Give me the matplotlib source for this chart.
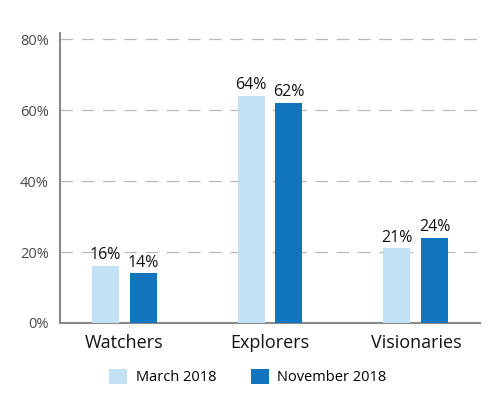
import matplotlib
matplotlib.use("Agg")
import matplotlib.pyplot as plt
from matplotlib.patches import Patch
import numpy as np

categories = ["Watchers", "Explorers", "Visionaries"]
march_2018 = [16, 64, 21]
november_2018 = [14, 62, 24]
series_names = ["March 2018", "November 2018"]
yticks = [0, 20, 40, 60, 80]
ytick_labels = ["0%", "20%", "40%", "60%", "80%"]

c_light = "#c3e1f5"
c_dark = "#1075bd"
font = ["Open Sans", "DejaVu Sans"]
plt.rcParams["font.family"] = font

fig = plt.figure(figsize=(5, 4.2), dpi=100)
ax = fig.add_axes([0.12, 0.231, 0.84, 0.69])

x = np.arange(len(categories))
w = 0.185
off = 0.13
b1 = ax.bar(x - off, march_2018, width=w, color=c_light, zorder=3)
b2 = ax.bar(x + off, november_2018, width=w, color=c_dark, zorder=3)
for bars, vals in ((b1, march_2018), (b2, november_2018)):
    for rect, v in zip(bars, vals):
        ax.annotate(f"{v}%", (rect.get_x() + rect.get_width() / 2, v),
                    xytext=(0, 2), textcoords="offset points",
                    ha="center", va="bottom", fontsize=11.5, color="#111111")

ax.set_xlim(-0.44, 2.44)
ax.set_ylim(0, 81.7)
ax.set_yticks(yticks)
ax.set_yticklabels(ytick_labels, fontsize=10.5, color="#4a4a4a")
ax.set_xticks(x)
ax.set_xticklabels(categories, fontsize=13, color="#111111")
ax.tick_params(axis="both", length=0)
ax.tick_params(axis="y", pad=8)
ax.tick_params(axis="x", pad=8)
for yv in yticks[1:]:
    ax.axhline(yv, color="#b8b8b8", lw=0.9, dashes=(10, 7), zorder=1)
for s in ("top", "right"):
    ax.spines[s].set_visible(False)
for s in ("left", "bottom"):
    ax.spines[s].set_color("#8a8a8a")
    ax.spines[s].set_linewidth(1.5)

handles = [Patch(facecolor=c_light), Patch(facecolor=c_dark)]
fig.legend(handles, series_names, loc="center", bbox_to_anchor=(0.496, 0.102),
           ncol=2, frameon=False, fontsize=10.5, handlelength=1.2, handleheight=1.2,
           columnspacing=2.4, handletextpad=0.6)

fig.savefig("out.png", dpi=100)
